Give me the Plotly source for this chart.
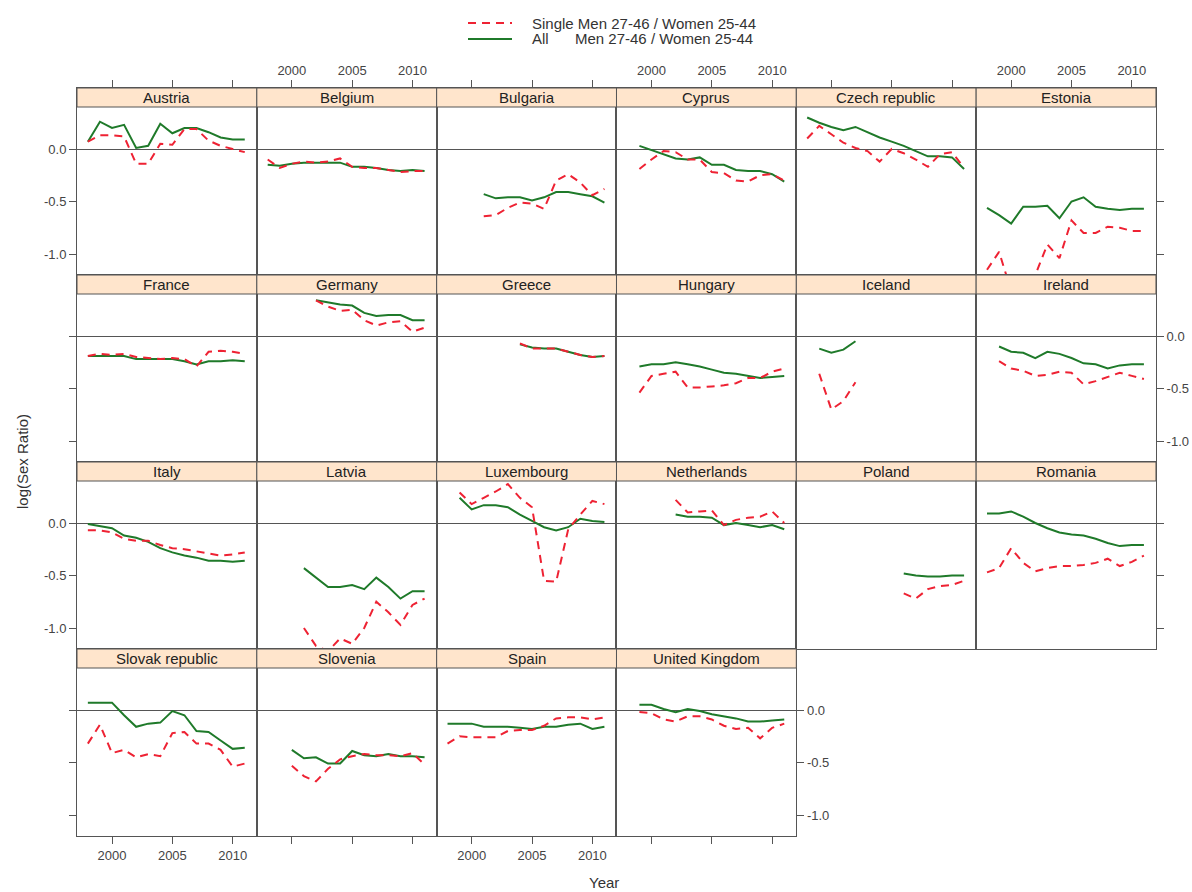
import plotly.graph_objects as go

# ---------------- data ----------------
years = [1998, 1999, 2000, 2001, 2002, 2003, 2004, 2005, 2006, 2007, 2008, 2009, 2010, 2011]

countries = ["Austria", "Belgium", "Bulgaria", "Cyprus", "Czech republic", "Estonia",
             "France", "Germany", "Greece", "Hungary", "Iceland", "Ireland",
             "Italy", "Latvia", "Luxembourg", "Netherlands", "Poland", "Romania",
             "Slovak republic", "Slovenia", "Spain", "United Kingdom"]

N = None
austria_single = [0.07, 0.13, 0.13, 0.12, -0.14, -0.14, 0.05, 0.04, 0.19, 0.19, 0.08, 0.03, 0.00, -0.03]
austria_all = [0.07, 0.26, 0.20, 0.23, 0.01, 0.03, 0.24, 0.15, 0.20, 0.20, 0.16, 0.11, 0.09, 0.09]
belgium_single = [-0.10, -0.18, -0.14, -0.12, -0.13, -0.12, -0.09, -0.17, -0.18, -0.18, -0.20, -0.22, -0.21, -0.21]
belgium_all = [-0.15, -0.16, -0.14, -0.13, -0.13, -0.13, -0.13, -0.17, -0.17, -0.18, -0.20, -0.21, -0.20, -0.21]
bulgaria_single = [N, N, N, -0.64, -0.63, -0.56, -0.51, -0.52, -0.57, -0.30, -0.24, -0.32, -0.44, -0.38]
bulgaria_all = [N, N, N, -0.43, -0.47, -0.46, -0.46, -0.49, -0.46, -0.41, -0.41, -0.43, -0.45, -0.51]
cyprus_single = [N, -0.19, -0.10, -0.02, -0.03, -0.10, -0.10, -0.22, -0.23, -0.30, -0.31, -0.25, -0.24, -0.30]
cyprus_all = [N, 0.03, -0.01, -0.05, -0.09, -0.10, -0.08, -0.15, -0.15, -0.20, -0.21, -0.21, -0.24, -0.31]
czech_single = [0.10, 0.22, 0.14, 0.06, 0.01, -0.02, -0.12, 0.00, -0.04, -0.10, -0.17, -0.05, -0.03, -0.18]
czech_all = [0.30, 0.25, 0.21, 0.18, 0.21, 0.16, 0.11, 0.07, 0.03, -0.02, -0.07, -0.07, -0.08, -0.19]
estonia_single = [-1.15, -0.98, -1.35, -1.22, -1.20, -0.91, -1.04, -0.68, -0.80, -0.80, -0.74, -0.75, -0.78, -0.78]
estonia_all = [-0.56, -0.63, -0.71, -0.55, -0.55, -0.54, -0.66, -0.50, -0.46, -0.55, -0.57, -0.58, -0.57, -0.57]
france_single = [-0.19, -0.17, -0.18, -0.17, -0.20, -0.21, -0.22, -0.21, -0.22, -0.29, -0.15, -0.14, -0.15, -0.17]
france_all = [-0.19, -0.19, -0.19, -0.19, -0.22, -0.22, -0.22, -0.22, -0.24, -0.27, -0.24, -0.24, -0.23, -0.24]
germany_single = [N, N, N, N, 0.34, 0.28, 0.24, 0.25, 0.15, 0.10, 0.13, 0.14, 0.04, 0.08]
germany_all = [N, N, N, N, 0.34, 0.32, 0.30, 0.29, 0.22, 0.19, 0.20, 0.20, 0.15, 0.15]
greece_single = [N, N, N, N, N, N, -0.07, -0.12, -0.12, -0.12, -0.15, -0.18, -0.20, -0.19]
greece_all = [N, N, N, N, N, N, -0.08, -0.11, -0.12, -0.12, -0.15, -0.18, -0.20, -0.19]
hungary_single = [N, -0.54, -0.38, -0.36, -0.34, -0.49, -0.49, -0.48, -0.47, -0.45, -0.40, -0.40, -0.34, -0.31]
hungary_all = [N, -0.29, -0.27, -0.27, -0.25, -0.27, -0.29, -0.32, -0.35, -0.36, -0.38, -0.40, -0.39, -0.38]
iceland_single = [N, -0.36, -0.70, -0.62, -0.44, N, N, N, N, N, N, N, N, N]
iceland_all = [N, -0.12, -0.16, -0.13, -0.05, N, N, N, N, N, N, N, N, N]
ireland_single = [N, -0.24, -0.31, -0.33, -0.38, -0.37, -0.34, -0.35, -0.46, -0.43, -0.39, -0.35, -0.38, -0.41]
ireland_all = [N, -0.10, -0.15, -0.16, -0.21, -0.15, -0.17, -0.21, -0.26, -0.27, -0.31, -0.28, -0.27, -0.27]
italy_single = [-0.07, -0.07, -0.09, -0.15, -0.17, -0.17, -0.21, -0.24, -0.25, -0.27, -0.29, -0.31, -0.30, -0.28]
italy_all = [-0.01, -0.03, -0.05, -0.12, -0.14, -0.18, -0.24, -0.28, -0.31, -0.33, -0.36, -0.36, -0.37, -0.36]
latvia_single = [N, N, N, -1.00, -1.17, -1.22, -1.10, -1.15, -1.00, -0.75, -0.85, -0.97, -0.78, -0.72]
latvia_all = [N, N, N, -0.43, -0.52, -0.61, -0.61, -0.59, -0.63, -0.52, -0.61, -0.72, -0.65, -0.65]
luxembourg_single = [N, 0.29, 0.18, 0.24, 0.30, 0.37, 0.24, 0.15, -0.55, -0.56, -0.06, 0.08, 0.21, 0.18]
luxembourg_all = [N, 0.24, 0.13, 0.17, 0.17, 0.15, 0.08, 0.02, -0.04, -0.07, -0.04, 0.04, 0.02, 0.01]
netherlands_single = [N, N, N, N, 0.22, 0.10, 0.11, 0.12, -0.02, 0.03, 0.05, 0.06, 0.11, 0.00]
netherlands_all = [N, N, N, N, 0.08, 0.06, 0.06, 0.05, -0.02, 0.00, -0.02, -0.04, -0.02, -0.06]
poland_single = [N, N, N, N, N, N, N, N, -0.67, -0.72, -0.63, -0.60, -0.59, -0.55]
poland_all = [N, N, N, N, N, N, N, N, -0.48, -0.50, -0.51, -0.51, -0.50, -0.50]
romania_single = [-0.47, -0.43, -0.24, -0.38, -0.46, -0.43, -0.41, -0.41, -0.40, -0.38, -0.34, -0.41, -0.37, -0.31]
romania_all = [0.09, 0.09, 0.11, 0.06, 0.00, -0.05, -0.09, -0.11, -0.12, -0.15, -0.19, -0.22, -0.21, -0.21]
slovakia_single = [-0.32, -0.14, -0.41, -0.38, -0.45, -0.42, -0.44, -0.22, -0.21, -0.32, -0.32, -0.38, -0.54, -0.51]
slovakia_all = [0.07, 0.07, 0.07, -0.05, -0.16, -0.13, -0.12, -0.01, -0.05, -0.20, -0.21, -0.29, -0.37, -0.36]
slovenia_single = [N, N, -0.53, -0.63, -0.68, -0.56, -0.47, -0.44, -0.42, -0.43, -0.43, -0.44, -0.41, -0.52]
slovenia_all = [N, N, -0.38, -0.46, -0.45, -0.51, -0.51, -0.39, -0.43, -0.44, -0.42, -0.44, -0.44, -0.45]
spain_single = [-0.32, -0.25, -0.26, -0.26, -0.26, -0.20, -0.19, -0.19, -0.15, -0.08, -0.07, -0.07, -0.09, -0.07]
spain_all = [-0.13, -0.13, -0.13, -0.16, -0.16, -0.16, -0.17, -0.18, -0.16, -0.16, -0.14, -0.13, -0.18, -0.16]
uk_single = [N, -0.02, -0.03, -0.09, -0.11, -0.06, -0.06, -0.09, -0.15, -0.18, -0.17, -0.27, -0.17, -0.13]
uk_all = [N, 0.05, 0.05, 0.01, -0.02, 0.01, -0.01, -0.04, -0.06, -0.08, -0.11, -0.11, -0.10, -0.09]

single_series = [austria_single, belgium_single, bulgaria_single, cyprus_single, czech_single, estonia_single,
                 france_single, germany_single, greece_single, hungary_single, iceland_single, ireland_single,
                 italy_single, latvia_single, luxembourg_single, netherlands_single, poland_single, romania_single,
                 slovakia_single, slovenia_single, spain_single, uk_single]
all_series = [austria_all, belgium_all, bulgaria_all, cyprus_all, czech_all, estonia_all,
              france_all, germany_all, greece_all, hungary_all, iceland_all, ireland_all,
              italy_all, latvia_all, luxembourg_all, netherlands_all, poland_all, romania_all,
              slovakia_all, slovenia_all, spain_all, uk_all]

x_ticks = [2000, 2005, 2010]
y_ticks = [0.0, -0.5, -1.0]
y_tick_text = ["0.0", "-0.5", "-1.0"]
legend_single = "Single Men 27-46 / Women 25-44"
legend_all_a = "All"
legend_all_b = "Men 27-46 / Women 25-44"

# ---------------- layout geometry (pixels) ----------------
W, H = 1192, 892
LEFT, COLW = 77.0, 179.83
TOP, ROWH, STRIP, PLOTH = 88.0, 187.0, 19.0, 168.0
YMIN, YTOP_DATA = -1.2, 0.4
YMAX = YTOP_DATA + STRIP * (YTOP_DATA - YMIN) / PLOTH
XRANGE = [1997.1, 2012.0]

RED = "#EE2233"
GREEN = "#1F7A2A"
FRAME = "#555555"
FONT = "Liberation Sans, Arial, sans-serif"


def px(x):
    return x / W


def py(y):
    return 1 - y / H


fig = go.Figure()
layout = dict(
    width=W, height=H,
    margin=dict(l=0, r=0, t=0, b=0),
    paper_bgcolor="white", plot_bgcolor="white",
    showlegend=False,
    font=dict(family=FONT, color="#333333"),
)
shapes = []
annotations = []

for i, name in enumerate(countries):
    r, c = divmod(i, 6)
    n = i + 1
    xref = "x" if n == 1 else f"x{n}"
    yref = "y" if n == 1 else f"y{n}"
    xkey = "xaxis" if n == 1 else f"xaxis{n}"
    ykey = "yaxis" if n == 1 else f"yaxis{n}"

    x0 = LEFT + c * COLW
    x1 = x0 + COLW
    ytop = TOP + r * ROWH
    ybot = ytop + ROWH

    # x axis: ticks on top of first row, bottom of last row
    if r == 0:
        xside, xticks, xlabels = "top", "outside", c in (1, 3, 5)
    elif r == 3:
        xside, xticks, xlabels = "bottom", "outside", c in (0, 2)
    else:
        xside, xticks, xlabels = "bottom", "", False

    layout[xkey] = dict(
        domain=[px(x0), px(x1)], range=XRANGE, anchor=yref.replace("y", "y"),
        side=xside, ticks=xticks, ticklen=7, tickcolor=FRAME, tickwidth=1,
        tickvals=x_ticks, showticklabels=xlabels,
        tickfont=dict(size=13, color="#444444", family=FONT),
        showline=True, mirror=True, linecolor=FRAME, linewidth=1,
        showgrid=False, zeroline=False, fixedrange=True,
    )

    # y axis
    if c == 0:
        yside, yticks, ylabels = "left", "outside", r in (0, 2)
    elif c == 5 or (r == 3 and c == 3):
        yside, yticks, ylabels = "right", "outside", r in (1, 3)
    else:
        yside, yticks, ylabels = "left", "", False

    layout[ykey] = dict(
        domain=[py(ybot), py(ytop)], range=[YMIN, YMAX], anchor=xref,
        side=yside, ticks=yticks, ticklen=7, tickcolor=FRAME, tickwidth=1,
        tickvals=y_ticks, ticktext=y_tick_text, showticklabels=ylabels,
        tickfont=dict(size=13, color="#444444", family=FONT),
        showline=True, mirror=True, linecolor=FRAME, linewidth=1,
        showgrid=False, zeroline=True, zerolinecolor=FRAME, zerolinewidth=1,
        fixedrange=True,
    )

    fig.add_trace(go.Scatter(
        x=years, y=all_series[i], mode="lines", xaxis=xref, yaxis=yref,
        line=dict(color=GREEN, width=2), name=legend_all_b, hoverinfo="skip",
    ))
    fig.add_trace(go.Scatter(
        x=years, y=single_series[i], mode="lines", xaxis=xref, yaxis=yref,
        line=dict(color=RED, width=2, dash="8px,6px"), name=legend_single, hoverinfo="skip",
    ))

    # strip
    shapes.append(dict(
        type="rect", xref="paper", yref="paper",
        x0=px(x0), x1=px(x1), y0=py(ytop + STRIP), y1=py(ytop),
        fillcolor="#FFE5CC", line=dict(color=FRAME, width=1), layer="above",
    ))
    annotations.append(dict(
        text=name, xref="paper", yref="paper", x=px((x0 + x1) / 2), y=py(ytop + STRIP / 2),
        xanchor="center", yanchor="middle", showarrow=False,
        font=dict(size=15, color="#222222", family=FONT),
    ))

# legend (drawn manually, lattice style)
shapes.append(dict(type="line", xref="paper", yref="paper",
                   x0=px(468), x1=px(512), y0=py(23), y1=py(23),
                   line=dict(color=RED, width=2, dash="8px,6px")))
shapes.append(dict(type="line", xref="paper", yref="paper",
                   x0=px(468), x1=px(512), y0=py(39), y1=py(39),
                   line=dict(color=GREEN, width=2)))
annotations.append(dict(text=legend_single, xref="paper", yref="paper", x=px(530), y=py(23),
                        xanchor="left", yanchor="middle", showarrow=False,
                        font=dict(size=15, color="#333333", family=FONT)))
annotations.append(dict(text=legend_all_a, xref="paper", yref="paper", x=px(530), y=py(39),
                        xanchor="left", yanchor="middle", showarrow=False,
                        font=dict(size=15, color="#333333", family=FONT)))
annotations.append(dict(text=legend_all_b, xref="paper", yref="paper", x=px(573), y=py(39),
                        xanchor="left", yanchor="middle", showarrow=False,
                        font=dict(size=15, color="#333333", family=FONT)))

# axis titles
annotations.append(dict(text="log(Sex Ratio)", xref="paper", yref="paper", x=px(22), y=py(462),
                        xanchor="center", yanchor="middle", textangle=-90, showarrow=False,
                        font=dict(size=15, color="#333333", family=FONT)))
annotations.append(dict(text="Year", xref="paper", yref="paper", x=px(604), y=py(882),
                        xanchor="center", yanchor="middle", showarrow=False,
                        font=dict(size=15, color="#333333", family=FONT)))

layout["shapes"] = shapes
layout["annotations"] = annotations
fig.update_layout(**layout)

fig.write_html("out.html")
